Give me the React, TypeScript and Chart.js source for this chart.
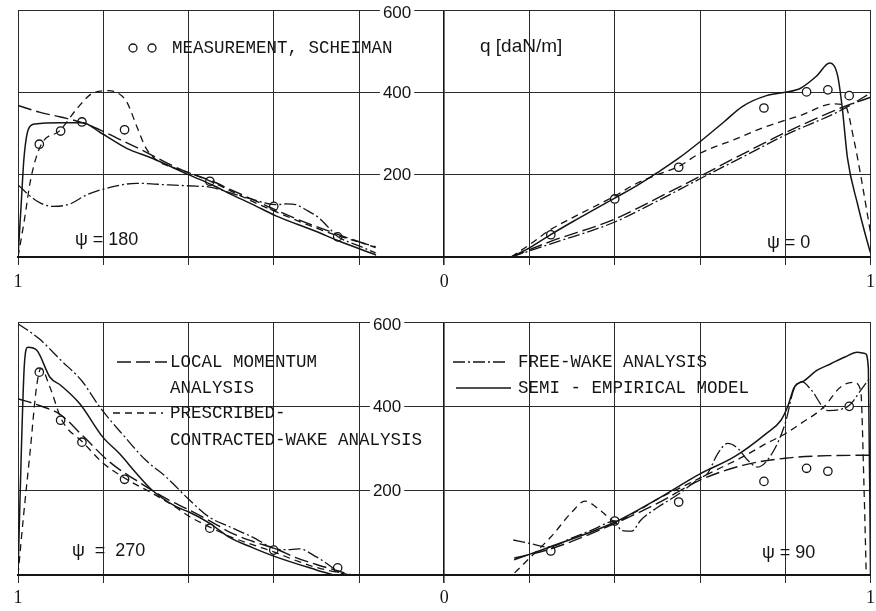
import React, { useEffect, useRef } from "react";
import { Chart, registerables } from "chart.js";
Chart.register(...registerables);

type P = [number, number]; // [r/R, q]

// ---------- tick labels ----------
const X_EDGE_LABEL = "1";
const X_CENTER_LABEL = "0";
const Y_TICKS = [200, 400, 600];

// ---------- text ----------
const MEASURE_LABEL = "MEASUREMENT, SCHEIMAN";
const UNIT_LABEL = "q [daN/m]";
const LOCAL_LABEL = ["LOCAL MOMENTUM", "ANALYSIS"];
const PRES_LABEL = ["PRESCRIBED-", "CONTRACTED-WAKE ANALYSIS"];
const FREE_LABEL = "FREE-WAKE ANALYSIS";
const SEMI_LABEL = "SEMI - EMPIRICAL MODEL";
const PSI_180 = "ψ = 180";
const PSI_0 = "ψ = 0";
const PSI_270 = "ψ  =  270";
const PSI_90 = "ψ = 90";

// ---------- psi = 180 (top, left half) ----------
const semi180: P[] = [[0.16, 5], [0.25, 40], [0.3, 62], [0.395, 100], [0.45, 128], [0.5, 152], [0.544, 175], [0.6, 200], [0.685, 240], [0.745, 264], [0.808, 303], [0.848, 326], [0.9, 326], [0.96, 323], [0.975, 312], [0.986, 240], [0.993, 120], [1.0, 0]];
const local180: P[] = [[0.161, 23], [0.2, 37], [0.25, 55], [0.3, 74], [0.35, 94], [0.395, 114], [0.45, 140], [0.5, 163], [0.544, 184], [0.6, 205], [0.65, 228], [0.7, 255], [0.75, 280], [0.8, 305], [0.848, 326], [0.9, 340], [0.95, 352], [1.0, 368]];
const pres180: P[] = [[0.161, 25], [0.25, 52], [0.3, 70], [0.395, 110], [0.45, 135], [0.5, 160], [0.544, 182], [0.6, 205], [0.65, 222], [0.675, 235], [0.7, 265], [0.722, 319], [0.745, 377], [0.769, 400], [0.79, 404], [0.825, 398], [0.862, 360], [0.902, 307], [0.946, 272], [0.97, 190], [0.985, 90], [1.0, 0]];
const free180: P[] = [[0.161, 10], [0.2, 27], [0.25, 50], [0.27, 70], [0.294, 95], [0.32, 112], [0.348, 127], [0.37, 129], [0.395, 127], [0.45, 140], [0.5, 155], [0.55, 170], [0.582, 172], [0.645, 175], [0.722, 179], [0.792, 167], [0.839, 151], [0.88, 128], [0.918, 123], [0.956, 136], [1.0, 175]];
const meas180: P[] = [[0.95, 274], [0.9, 306], [0.85, 328], [0.75, 309], [0.55, 184], [0.4, 123], [0.25, 49]];

// ---------- psi = 0 (top, right half) ----------
const semi0: P[] = [[0.157, 0], [0.2, 22], [0.246, 52], [0.3, 85], [0.398, 142], [0.45, 172], [0.5, 205], [0.55, 240], [0.6, 280], [0.656, 328], [0.7, 366], [0.756, 392], [0.8, 400], [0.836, 410], [0.874, 440], [0.904, 471], [0.923, 440], [0.934, 360], [0.946, 240], [0.97, 127], [0.988, 54], [1.0, 10]];
const local0: P[] = [[0.157, 0], [0.25, 38], [0.4, 92], [0.5, 143], [0.6, 196], [0.7, 250], [0.8, 302], [0.93, 362], [1.0, 388]];
const pres0: P[] = [[0.157, 0], [0.2, 30], [0.25, 67], [0.3, 95], [0.398, 147], [0.45, 178], [0.5, 200], [0.55, 220], [0.6, 252], [0.68, 285], [0.75, 315], [0.836, 344], [0.913, 372], [0.94, 368], [0.962, 280], [0.981, 175], [0.993, 102], [1.0, 60]];
const free0: P[] = [[0.157, 0], [0.25, 32], [0.4, 85], [0.5, 136], [0.6, 190], [0.7, 243], [0.8, 296], [0.93, 356], [1.0, 398]];
const meas0: P[] = [[0.25, 54], [0.4, 141], [0.55, 218], [0.75, 362], [0.85, 401], [0.9, 406], [0.95, 392]];

// ---------- psi = 270 (bottom, left half) ----------
const semi270: P[] = [[0.26, 0], [0.3, 12], [0.395, 43], [0.45, 65], [0.505, 90], [0.551, 123], [0.6, 150], [0.629, 162], [0.685, 201], [0.722, 241], [0.762, 288], [0.801, 327], [0.855, 406], [0.9, 450], [0.925, 469], [0.956, 533], [0.977, 540], [0.985, 500], [0.992, 300], [1.0, 0]];
const local270: P[] = [[0.217, 0], [0.25, 10], [0.3, 25], [0.35, 42], [0.395, 62], [0.45, 80], [0.5, 100], [0.544, 125], [0.6, 155], [0.65, 180], [0.708, 215], [0.785, 268], [0.848, 330], [0.9, 380], [0.95, 402], [1.0, 418]];
const pres270: P[] = [[0.22, 0], [0.25, 6], [0.3, 18], [0.35, 35], [0.4, 55], [0.45, 72], [0.5, 90], [0.551, 114], [0.6, 140], [0.629, 160], [0.685, 194], [0.745, 227], [0.8, 265], [0.848, 315], [0.897, 367], [0.925, 445], [0.946, 490], [0.956, 450], [0.972, 288], [0.988, 130], [1.0, 0]];
const free270: P[] = [[0.24, 0], [0.25, 8], [0.287, 35], [0.3, 43], [0.341, 62], [0.37, 60], [0.395, 62], [0.45, 90], [0.505, 115], [0.551, 137], [0.6, 180], [0.652, 232], [0.7, 272], [0.75, 328], [0.808, 398], [0.85, 460], [0.9, 510], [0.95, 560], [1.0, 596]];
const meas270: P[] = [[0.95, 481], [0.9, 367], [0.85, 315], [0.75, 227], [0.55, 111], [0.4, 59], [0.25, 17]];

// ---------- psi = 90 (bottom, right half) ----------
const semi90: P[] = [[0.164, 36], [0.246, 66], [0.4, 125], [0.5, 180], [0.602, 241], [0.68, 280], [0.756, 336], [0.79, 367], [0.806, 400], [0.821, 445], [0.845, 461], [0.874, 485], [0.907, 501], [0.94, 517], [0.969, 528], [0.988, 525], [0.995, 490], [1.0, 0]];
const local90: P[] = [[0.164, 40], [0.25, 62], [0.4, 122], [0.5, 170], [0.6, 225], [0.7, 260], [0.8, 277], [0.9, 283], [1.0, 284]];
const pres90: P[] = [[0.165, 5], [0.2, 40], [0.25, 90], [0.3, 150], [0.33, 175], [0.37, 150], [0.4, 128], [0.45, 150], [0.5, 180], [0.55, 205], [0.6, 230], [0.65, 255], [0.7, 280], [0.756, 312], [0.8, 335], [0.836, 359], [0.89, 398], [0.93, 446], [0.96, 457], [0.977, 438], [0.985, 200], [0.99, 0]];
const free90: P[] = [[0.162, 83], [0.2, 75], [0.244, 66], [0.3, 88], [0.35, 108], [0.4, 128], [0.415, 106], [0.44, 104], [0.461, 130], [0.5, 160], [0.55, 192], [0.6, 230], [0.618, 241], [0.64, 285], [0.665, 312], [0.689, 300], [0.712, 272], [0.735, 256], [0.77, 290], [0.8, 360], [0.82, 440], [0.84, 458], [0.86, 440], [0.9, 390], [0.95, 402], [0.977, 438], [1.0, 470]];
const meas90: P[] = [[0.25, 57], [0.4, 128], [0.55, 173], [0.75, 222], [0.85, 253], [0.9, 246], [0.95, 400]];

// ---------- styles ----------
const INK = "#151515";
const GRID = "#2a2a2a";
const STY = {
  semi: { dash: [] as number[], width: 1.5 },
  local: { dash: [14, 5], width: 1.4 },
  pres: { dash: [7, 5], width: 1.3 },
  free: { dash: [12, 3, 2, 3], width: 1.3 },
};

function toXY(pts: P[], side: number) {
  return pts.map(([r, q]) => ({ x: side * r, y: q })).sort((a, b) => a.x - b.x);
}
function curve(pts: P[], side: number, s: { dash: number[]; width: number }) {
  return {
    data: toXY(pts, side),
    showLine: true,
    borderColor: INK,
    borderWidth: s.width,
    borderDash: s.dash,
    pointRadius: 0,
    fill: false,
    cubicInterpolationMode: "monotone" as const,
  };
}
function meas(pts: P[], side: number) {
  return {
    data: toXY(pts, side),
    showLine: false,
    pointRadius: 4.2,
    pointBackgroundColor: "#fff",
    pointBorderColor: INK,
    pointBorderWidth: 1.3,
  };
}

type Txt = { t: string; x: number; y: number; font: string };
type Ln = { x1: number; x2: number; y: number; dash: number[]; w: number };
type Cir = { x: number; y: number };

const TICK_FONT = '17px "Liberation Sans", Arial, sans-serif';

function overlay(id: string, yPad: number, texts: Txt[], lines: Ln[], circles: Cir[]) {
  return {
    id,
    beforeDatasetsDraw(chart: any) {
      // y tick labels next to the central axis, with white backdrop
      const ctx = chart.ctx as CanvasRenderingContext2D;
      const xs = chart.scales.x;
      const ys = chart.scales.y;
      const x0 = xs.getPixelForValue(0);
      ctx.save();
      ctx.font = TICK_FONT;
      ctx.textAlign = "right";
      ctx.textBaseline = "middle";
      for (const v of Y_TICKS) {
        const py = ys.getPixelForValue(v) + (v === 600 ? 3 : 1);
        const label = String(v);
        const w = ctx.measureText(label).width;
        ctx.fillStyle = "#fff";
        ctx.fillRect(x0 - yPad - w - 3, py - 10, w + 6, 20);
        ctx.fillStyle = INK;
        ctx.fillText(label, x0 - yPad, py);
      }
      ctx.restore();
    },
    afterDraw(chart: any) {
      const ctx = chart.ctx as CanvasRenderingContext2D;
      ctx.save();
      ctx.fillStyle = INK;
      ctx.strokeStyle = INK;
      ctx.textBaseline = "middle";
      ctx.textAlign = "left";
      for (const t of texts) {
        ctx.font = t.font;
        ctx.fillText(t.t, t.x, t.y);
      }
      for (const l of lines) {
        ctx.beginPath();
        ctx.setLineDash(l.dash);
        ctx.lineWidth = l.w;
        ctx.moveTo(l.x1, l.y);
        ctx.lineTo(l.x2, l.y);
        ctx.stroke();
      }
      ctx.setLineDash([]);
      for (const c of circles) {
        ctx.beginPath();
        ctx.lineWidth = 1.3;
        ctx.arc(c.x, c.y, 4, 0, Math.PI * 2);
        ctx.fillStyle = "#fff";
        ctx.fill();
        ctx.stroke();
      }
      ctx.restore();
    },
  };
}

const LEG_FONT = '17.5px "Liberation Mono", "DejaVu Sans Mono", monospace';
const PSI_FONT = '18px "Liberation Sans", Arial, sans-serif';

function Panel(props: {
  height: number;
  top: number;
  padding: { left: number; right: number; top: number; bottom: number };
  tickPad: number;
  datasets: any[];
  plugin: any;
}) {
  const ref = useRef<HTMLCanvasElement | null>(null);
  useEffect(() => {
    if (!ref.current) return;
    const chart = new Chart(ref.current, {
      type: "scatter",
      data: { datasets: props.datasets },
      options: {
        responsive: false,
        animation: false,
        devicePixelRatio: 1,
        layout: { padding: props.padding },
        plugins: { legend: { display: false }, tooltip: { enabled: false } },
        scales: {
          x: {
            type: "linear",
            min: -1,
            max: 1,
            position: "bottom",
            afterFit: (s: any) => {
              s.paddingLeft = 0;
              s.paddingRight = 0;
            },
            ticks: {
              stepSize: 0.2,
              autoSkip: false,
              maxRotation: 0,
              padding: props.tickPad,
              color: INK,
              font: { family: '"Liberation Serif", serif', size: 18, lineHeight: 1 },
              callback: (v: any) => {
                const n = Number(v);
                if (Math.abs(Math.abs(n) - 1) < 1e-6) return X_EDGE_LABEL;
                if (Math.abs(n) < 1e-6) return X_CENTER_LABEL;
                return "";
              },
            },
            grid: {
              color: (c: any) => (Math.abs(c.tick?.value ?? 1) < 1e-6 ? INK : GRID),
              lineWidth: (c: any) => (Math.abs(c.tick?.value ?? 1) < 1e-6 ? 1.6 : 1),
              drawTicks: true,
              tickLength: 8,
              tickColor: GRID,
            },
            border: { color: INK, width: 2 },
          },
          y: {
            type: "linear",
            min: 0,
            max: 600,
            position: "left",
            afterBuildTicks: (s: any) => {
              s.ticks = [0, ...Y_TICKS].map((v) => ({ value: v }));
            },
            afterFit: (s: any) => {
              s.width = 0;
            },
            ticks: { display: false },
            grid: { color: GRID, lineWidth: 1, drawTicks: false },
            border: { display: false },
          },
        },
      } as any,
      plugins: [props.plugin],
    });
    return () => chart.destroy();
  }, []);
  return (
    <canvas
      ref={ref}
      width={876}
      height={props.height}
      style={{ position: "absolute", left: 0, top: props.top, width: 876, height: props.height }}
    />
  );
}

const topDatasets = [
  curve(semi180, -1, STY.semi),
  curve(local180, -1, STY.local),
  curve(pres180, -1, STY.pres),
  curve(free180, -1, STY.free),
  meas(meas180, -1),
  curve(semi0, 1, STY.semi),
  curve(local0, 1, STY.local),
  curve(pres0, 1, STY.pres),
  curve(free0, 1, STY.free),
  meas(meas0, 1),
];

const bottomDatasets = [
  curve(semi270, -1, STY.semi),
  curve(local270, -1, STY.local),
  curve(pres270, -1, STY.pres),
  curve(free270, -1, STY.free),
  meas(meas270, -1),
  curve(semi90, 1, STY.semi),
  curve(local90, 1, STY.local),
  curve(pres90, 1, STY.pres),
  curve(free90, 1, STY.free),
  meas(meas90, 1),
];

const topOverlay = overlay(
  "topOverlay",
  33,
  [
    { t: MEASURE_LABEL, x: 172, y: 48, font: LEG_FONT },
    { t: UNIT_LABEL, x: 480, y: 47, font: '19px "Liberation Sans", Arial, sans-serif' },
    { t: PSI_180, x: 75, y: 240, font: PSI_FONT },
    { t: PSI_0, x: 767, y: 243, font: PSI_FONT },
  ],
  [],
  [{ x: 133, y: 48 }, { x: 152, y: 48 }]
);

const bottomOverlay = overlay(
  "bottomOverlay",
  43,
  [
    { t: LOCAL_LABEL[0], x: 170, y: 62, font: LEG_FONT },
    { t: LOCAL_LABEL[1], x: 170, y: 88, font: LEG_FONT },
    { t: PRES_LABEL[0], x: 170, y: 113, font: LEG_FONT },
    { t: PRES_LABEL[1], x: 170, y: 140, font: LEG_FONT },
    { t: FREE_LABEL, x: 518, y: 62, font: LEG_FONT },
    { t: SEMI_LABEL, x: 518, y: 88, font: LEG_FONT },
    { t: PSI_270, x: 72, y: 251, font: PSI_FONT },
    { t: PSI_90, x: 762, y: 253, font: PSI_FONT },
  ],
  [
    { x1: 117, x2: 167, y: 62, dash: STY.local.dash, w: 1.6 },
    { x1: 113, x2: 163, y: 113, dash: STY.pres.dash, w: 1.5 },
    { x1: 453, x2: 508, y: 62, dash: STY.free.dash, w: 1.5 },
    { x1: 456, x2: 511, y: 88, dash: STY.semi.dash, w: 1.6 },
  ],
  []
);

export default function App() {
  return (
    <div style={{ position: "absolute", left: 0, top: 0, width: 876, height: 611, background: "#fff", overflow: "hidden" }}>
      <Panel
        height={300}
        top={0}
        padding={{ left: 18, right: 3, top: 10, bottom: 1 }}
        tickPad={8}
        datasets={topDatasets}
        plugin={topOverlay}
      />
      <Panel
        height={311}
        top={300}
        padding={{ left: 18, right: 3, top: 22, bottom: -2 }}
        tickPad={6}
        datasets={bottomDatasets}
        plugin={bottomOverlay}
      />
    </div>
  );
}
